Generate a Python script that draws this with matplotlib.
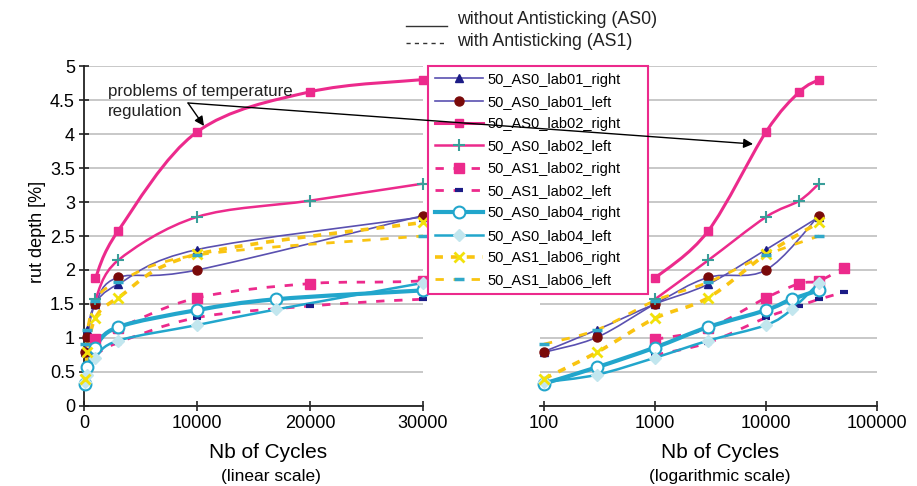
import numpy as np
import matplotlib
matplotlib.use("Agg")
import matplotlib.pyplot as plt
from matplotlib.path import Path
from matplotlib.patches import PathPatch, ConnectionPatch
from matplotlib.lines import Line2D
from matplotlib.ticker import FuncFormatter

plt.rcParams['font.family'] = ['Liberation Sans', 'DejaVu Sans']

# ---- data (rut depth [%] vs number of cycles) ----
x_lab01 = [100, 300, 1000, 3000, 10000, 30000]
as0_lab01_right = [0.80, 1.12, 1.50, 1.79, 2.30, 2.78]
as0_lab01_left = [0.79, 1.01, 1.50, 1.89, 2.00, 2.80]

x_lab02_as0 = [1000, 3000, 10000, 20000, 30000]
as0_lab02_right = [1.88, 2.57, 4.03, 4.62, 4.80]
as0_lab02_left = [1.57, 2.14, 2.78, 3.02, 3.27]

x_lab02_as1 = [1000, 3000, 10000, 20000, 30000, 50000]
as1_lab02_right = [0.98, 1.14, 1.59, 1.80, 1.84, 2.03]
as1_lab02_left = [0.75, 0.93, 1.30, 1.47, 1.57, 1.67]

x_lab04 = [100, 300, 1000, 3000, 10000, 17000, 30000]
as0_lab04_right = [0.33, 0.57, 0.86, 1.16, 1.41, 1.57, 1.70]
as0_lab04_left = [0.35, 0.46, 0.71, 0.96, 1.19, 1.42, 1.81]

x_lab06 = [100, 300, 1000, 3000, 10000, 30000]
as1_lab06_right = [0.40, 0.79, 1.29, 1.59, 2.23, 2.70]
as1_lab06_left = [0.91, 1.12, 1.55, 1.82, 2.22, 2.50]

labels = ['50_AS0_lab01_right', '50_AS0_lab01_left', '50_AS0_lab02_right',
          '50_AS0_lab02_left', '50_AS1_lab02_right', '50_AS1_lab02_left',
          '50_AS0_lab04_right', '50_AS0_lab04_left', '50_AS1_lab06_right',
          '50_AS1_lab06_left']
xs = [x_lab01, x_lab01, x_lab02_as0, x_lab02_as0, x_lab02_as1, x_lab02_as1,
      x_lab04, x_lab04, x_lab06, x_lab06]
ys = [as0_lab01_right, as0_lab01_left, as0_lab02_right, as0_lab02_left,
      as1_lab02_right, as1_lab02_left, as0_lab04_right, as0_lab04_left,
      as1_lab06_right, as1_lab06_left]

pink = '#EC2A8C'
navy_line = '#5A50B0'
cyan = '#22A6CC'
yellow = '#F9C411'
dash = (0, (3, 3.5))
dash_y = (0, (2.2, 2.2))

# line color, line style, lw, marker, marker face, marker edge, ms, mew
styles = [
    (navy_line, '-', 1.2, '^', '#1C1C86', '#1C1C86', 6, 1),
    (navy_line, '-', 1.2, 'o', '#7A0A0A', '#7A0A0A', 6.5, 1),
    (pink, '-', 2.2, 's', pink, pink, 5.5, 1),
    (pink, '-', 1.8, '+', '#3A9E9A', '#3A9E9A', 9, 1.5),
    (pink, dash, 2.0, 's', pink, pink, 7.5, 1),
    (pink, dash, 2.0, '_', '#1C1C86', '#1C1C86', 6, 3),
    (cyan, '-', 3.0, 'o', 'white', cyan, 8.5, 1.5),
    (cyan, '-', 1.8, 'D', '#C2E6EE', '#C2E6EE', 6, 1),
    (yellow, dash_y, 2.6, 'x', '#F2E10A', '#F2E10A', 7, 2),
    (yellow, dash, 2.0, '_', '#30A8C8', '#30A8C8', 7, 2.5),
]


def smooth_path(x, y, logx=False):
    # Excel-like smoothed line: Catmull-Rom segments as cubic Bezier curves
    u = np.log10(x) if logx else np.asarray(x, float)
    v = np.asarray(y, float)
    n = len(u)
    verts = [(u[0], v[0])]
    codes = [Path.MOVETO]
    for i in range(n - 1):
        p0 = i - 1 if i > 0 else i
        p3 = i + 2 if i + 2 < n else i + 1
        c1 = (u[i] + (u[i + 1] - u[p0]) / 6, v[i] + (v[i + 1] - v[p0]) / 6)
        c2 = (u[i + 1] - (u[p3] - u[i]) / 6, v[i + 1] - (v[p3] - v[i]) / 6)
        verts += [c1, c2, (u[i + 1], v[i + 1])]
        codes += [Path.CURVE4] * 3
    verts = np.array(verts)
    if logx:
        verts[:, 0] = 10 ** verts[:, 0]
    return Path(verts, codes)


fig = plt.figure(figsize=(9.17, 4.86), dpi=100)
axL = fig.add_axes([84 / 917, 1 - 406 / 486, 339 / 917, 340 / 486])
axR = fig.add_axes([540 / 917, 1 - 406 / 486, 337 / 917, 340 / 486])

for ax, logx in [(axL, False), (axR, True)]:
    if logx:
        ax.set_xscale('log')
    for k, (x, y) in enumerate(zip(xs, ys)):
        lc, ls, lw, m, mfc, mec, ms, mew = styles[k]
        patch = PathPatch(smooth_path(x, y, logx), fill=False, edgecolor=lc,
                          lw=lw, linestyle=ls, transform=ax.transData,
                          zorder=2 + k * 0.01, capstyle='butt')
        ax.add_patch(patch)
        xa = np.asarray(x)
        ya = np.asarray(y)
        keep = xa <= 30000 if not logx else xa > 0
        ax.plot(xa[keep], ya[keep], ls='none', marker=m, mfc=mfc, mec=mec,
                ms=ms, mew=mew, clip_on=False, zorder=4)
    ax.set_ylim(0, 5)
    ax.set_yticks(np.arange(0, 5.01, 0.5))
    ax.yaxis.grid(True, color='#C4C4C4', lw=1.3)
    ax.set_axisbelow(True)
    ax.spines['top'].set_visible(False)
    ax.spines['right'].set_visible(False)
    ax.spines['bottom'].set_linewidth(1.3)
    ax.spines['bottom'].set_color('#222222')
    ax.tick_params(axis='x', direction='inout', length=7, width=1.2,
                   labelsize=13, pad=3, color='#222222')
    ax.patch.set_alpha(0)

axL.set_xlim(0, 30000)
axL.set_xticks([0, 10000, 20000, 30000])
axL.spines['left'].set_linewidth(1.3)
axL.spines['left'].set_color('#222222')
axL.tick_params(axis='y', direction='inout', length=7, width=1.2,
                labelsize=13, pad=3, color='#222222')
axL.yaxis.set_major_formatter(FuncFormatter(lambda v, p: '%g' % v))

axR.set_xlim(92, 100000)
axR.set_xticks([100, 1000, 10000, 100000])
axR.xaxis.set_major_formatter(FuncFormatter(lambda v, p: '%d' % v))
axR.xaxis.set_minor_locator(matplotlib.ticker.NullLocator())
axR.spines['left'].set_visible(False)
axR.tick_params(axis='y', length=0, labelleft=False)

# axis titles
fig.text(38 / 917, 1 - 232 / 486, 'rut depth [%]', rotation=90,
         ha='center', va='center', fontsize=13)
fig.text(268 / 917, 1 - 452 / 486, 'Nb of Cycles', ha='center',
         va='center', fontsize=15)
fig.text(271 / 917, 1 - 476 / 486, '(linear scale)', ha='center',
         va='center', fontsize=12.5)
fig.text(720 / 917, 1 - 452 / 486, 'Nb of Cycles', ha='center',
         va='center', fontsize=15)
fig.text(720 / 917, 1 - 476 / 486, '(logarithmic scale)', ha='center',
         va='center', fontsize=12.5)

# top legend: line styles
fig.add_artist(Line2D([406 / 917, 447 / 917], [1 - 26 / 486] * 2,
                      color='#333333', lw=1))
fig.add_artist(Line2D([406 / 917, 447 / 917], [1 - 43 / 486] * 2,
                      color='#333333', lw=1, ls=(0, (3, 3))))
fig.text(457 / 917, 1 - 19 / 486, 'without Antisticking (AS0)',
         va='center', fontsize=12.8, color='#222222')
fig.text(457 / 917, 1 - 42 / 486, 'with Antisticking (AS1)',
         va='center', fontsize=12.8, color='#222222')

# annotation
axL.text(0.071, 0.896, 'problems of temperature\nregulation', ha='left',
         va='center', fontsize=12.2, linespacing=1.4, color='#222222',
         transform=axL.transAxes, zorder=6)
axL.annotate('', xy=(10619, 4.118), xytext=(9204, 4.456),
             arrowprops=dict(arrowstyle='-|>', color='black', lw=1,
                             mutation_scale=14, shrinkA=0, shrinkB=0),
             zorder=6)
con = ConnectionPatch(xyA=(9204, 4.456), coordsA=axL.transData,
                      xyB=(7640, 3.853), coordsB=axR.transData,
                      arrowstyle='-|>', mutation_scale=14, color='black',
                      lw=1, shrinkA=0, shrinkB=0, zorder=10)
fig.add_artist(con)

# series legend
handles = []
for lc, ls, lw, m, mfc, mec, ms, mew in styles:
    handles.append(Line2D([], [], color=lc, ls=ls, lw=lw, marker=m, mfc=mfc,
                          mec=mec, ms=ms, mew=mew))
leg = fig.legend(handles, labels, loc='upper left', mode='expand',
                 bbox_to_anchor=(428 / 917, 1 - 292 / 486, 220 / 917,
                                 226 / 486), borderaxespad=0,
                 fontsize=10.5, fancybox=False, framealpha=1,
                 edgecolor=pink, labelspacing=0.57, handlelength=3.3,
                 handletextpad=0.3, borderpad=0.45)
leg.get_frame().set_linewidth(1.5)

fig.savefig('out.png', dpi=100)
